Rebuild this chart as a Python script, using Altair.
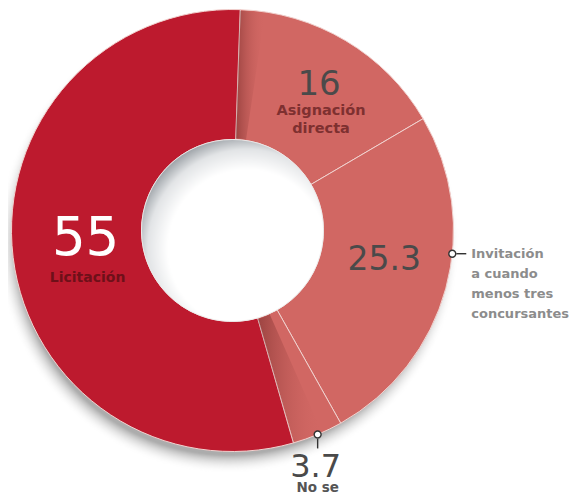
import math
import altair as alt
import pandas as pd

# ---- data ----
categories = ["Asignación directa", "Invitación a cuando menos tres concursantes", "No se", "Licitación"]
values = [16, 25.3, 3.7, 55]
value_labels = ["16", "25.3", "3.7", "55"]
name_labels = ["Asignación\ndirecta", "Invitación\na cuando\nmenos tres\nconcursantes", "No se", "Licitación"]
slice_colors = ["#D16763", "#D16763", "#D16763", "#BD1A2E"]

df = pd.DataFrame({
    "categoria": categories,
    "valor": values,
    "orden": list(range(len(categories))),
    "num": value_labels,
    "nombre": name_labels,
})
total = float(sum(values))

# ---- layout constants ----
W, H = 566, 486
CX, CY = 224.5, 222.5
R_OUT, R_IN = 221, 91
START = math.radians(2)
FONT = "DejaVu Sans"
TAU = 2 * math.pi

theta_scale = alt.Scale(domain=[0, total], range=[START, START + TAU])

stacked = (
    alt.Chart(df)
    .transform_window(fin="sum(valor)", sort=[alt.SortField("orden")], frame=[None, 0])
    .transform_calculate(ini="datum.fin - datum.valor", mid="datum.fin - datum.valor / 2")
)

center = dict(x=alt.value(CX), y=alt.value(CY))

one = alt.Chart(pd.DataFrame({"k": [0]}))

# drop shadow under the ring
shadow = one.mark_arc(
    theta=0, theta2=TAU, outerRadius=R_OUT + 10, innerRadius=0,
    fill={"gradient": "radial", "x1": 0.5, "y1": 0.5, "r1": 0, "x2": 0.5, "y2": 0.5, "r2": 0.5,
          "stops": [{"offset": 0, "color": "rgba(90,90,90,0.5)"},
                    {"offset": 0.92, "color": "rgba(90,90,90,0.5)"},
                    {"offset": 1, "color": "rgba(255,255,255,0)"}]},
).encode(x=alt.value(CX - 4), y=alt.value(CY + 12))

ring = stacked.mark_arc(
    outerRadius=R_OUT, innerRadius=R_IN, stroke="#F1D2CF", strokeWidth=1
).encode(
    theta=alt.Theta("ini:Q", scale=theta_scale),
    theta2="fin:Q",
    color=alt.Color("categoria:N", scale=alt.Scale(domain=categories, range=slice_colors), legend=None),
    **center,
)

# shading on the slices next to the big one
shade_fill = {"gradient": "linear", "x1": 0, "y1": 0.5, "x2": 1, "y2": 0.5,
              "stops": [{"offset": 0, "color": "rgba(70,10,10,0.38)"},
                        {"offset": 1, "color": "rgba(209,103,99,0)"}]}

shade16 = stacked.transform_filter(alt.datum.orden == 0).transform_calculate(
    s1="datum.ini", s2="datum.ini + 1.8"
).mark_arc(outerRadius=R_OUT - 1, innerRadius=R_IN + 1, fill=shade_fill).encode(
    theta=alt.Theta("s1:Q", scale=theta_scale), theta2="s2:Q", **center)

shade37 = stacked.transform_filter(alt.datum.orden == 2).transform_calculate(
    s1="datum.fin - 2.2", s2="datum.fin"
).mark_arc(outerRadius=R_OUT - 1, innerRadius=R_IN + 1, fill=shade_fill).encode(
    theta=alt.Theta("s1:Q", scale=theta_scale), theta2="s2:Q", **center)

# hole with inner shadow
hole = one.mark_arc(
    theta=0, theta2=TAU, outerRadius=R_IN, innerRadius=0, stroke="#EEEEEE", strokeWidth=0.8,
    fill={"gradient": "radial", "x1": 0.58, "y1": 0.6, "r1": 0, "x2": 0.58, "y2": 0.6, "r2": 0.62,
          "stops": [{"offset": 0, "color": "#FFFFFF"},
                    {"offset": 0.7, "color": "#FFFFFF"},
                    {"offset": 0.88, "color": "#E2E4E6"},
                    {"offset": 1, "color": "#A3A8AD"}]},
).encode(**center)


def polar_text(order, field, radius, dx=0, dy=0, **style):
    return stacked.transform_filter(alt.datum.orden == order).mark_text(
        radius=radius, dx=dx, dy=dy, font=FONT, lineBreak="\n", **style
    ).encode(
        theta=alt.Theta("mid:Q", scale=theta_scale, stack=None),
        text=alt.Text(f"{field}:N"),
        **center,
    )


t16 = polar_text(0, "num", 169, fontSize=34, color="#4A4A4A", baseline="middle", align="center")
n16 = polar_text(0, "nombre", 169, dx=2, dy=19, fontSize=14.5, fontWeight="bold", color="#7E3030",
                 baseline="top", align="center", lineHeight=18)
t25 = polar_text(1, "num", 152, dx=5, dy=-10, fontSize=33, color="#4A4A4A", baseline="middle", align="center")
t55 = polar_text(3, "num", 148, dy=-10, fontSize=53, color="#FFFFFF", baseline="middle", align="center")
n55 = polar_text(3, "nombre", 148, dx=2, dy=22, fontSize=14, fontWeight="bold", color="#6E1019",
                 baseline="top", align="center")


def leader_base(order, frac):
    return stacked.transform_filter(alt.datum.orden == order).transform_calculate(
        ang=f"{START} + {TAU} * (datum.ini + {frac} * datum.valor) / {total}"
    ).transform_calculate(
        px=f"{CX} + {R_OUT} * sin(datum.ang)",
        py=f"{CY} - {R_OUT} * cos(datum.ang)",
    )


lb_inv = leader_base(1, 0.4)
lb_no = leader_base(2, 0.5)

pos = dict(x=alt.X("px:Q", scale=None), y=alt.Y("py:Q", scale=None))

line_inv = lb_inv.transform_calculate(lx1="datum.px + 4", lx2="datum.px + 14").mark_rule(
    color="#333333", strokeWidth=1.4
).encode(x=alt.X("lx1:Q", scale=None), x2="lx2:Q", y=alt.Y("py:Q", scale=None))
dot_inv = lb_inv.mark_point(shape="circle", size=48, filled=True, fill="#FFFFFF",
                            stroke="#333333", strokeWidth=1.4, opacity=1).encode(**pos)
txt_inv = lb_inv.mark_text(font=FONT, fontSize=13, fontWeight="bold", color="#8C8C8C",
                           align="left", baseline="top", dx=19, dy=-6, lineBreak="\n",
                           lineHeight=20).encode(text="nombre:N", **pos)

line_no = lb_no.transform_calculate(ly1="datum.py + 4", ly2="datum.py + 14").mark_rule(
    color="#333333", strokeWidth=1.4
).encode(x=alt.X("px:Q", scale=None), y=alt.Y("ly1:Q", scale=None), y2="ly2:Q")
dot_no = lb_no.mark_point(shape="circle", size=48, filled=True, fill="#FFFFFF",
                          stroke="#333333", strokeWidth=1.4, opacity=1).encode(**pos)
num_no = lb_no.mark_text(font=FONT, fontSize=32, color="#4A4A4A", align="center",
                         baseline="middle", dx=-2, dy=33).encode(text="num:N", **pos)
txt_no = lb_no.mark_text(font=FONT, fontSize=13.5, fontWeight="bold", color="#555555", align="center",
                         baseline="alphabetic", dy=58).encode(text="nombre:N", **pos)

chart = alt.layer(
    shadow, ring, shade16, shade37, hole,
    t16, n16, t25, t55, n55,
    line_inv, dot_inv, txt_inv,
    line_no, dot_no, num_no, txt_no,
).properties(
    width=W, height=H, padding=0, autosize=alt.AutoSizeParams(type="none"), background="#FFFFFF"
).configure_view(stroke=None)

chart.save("out.html", embed_options={"renderer": "svg", "actions": False})
